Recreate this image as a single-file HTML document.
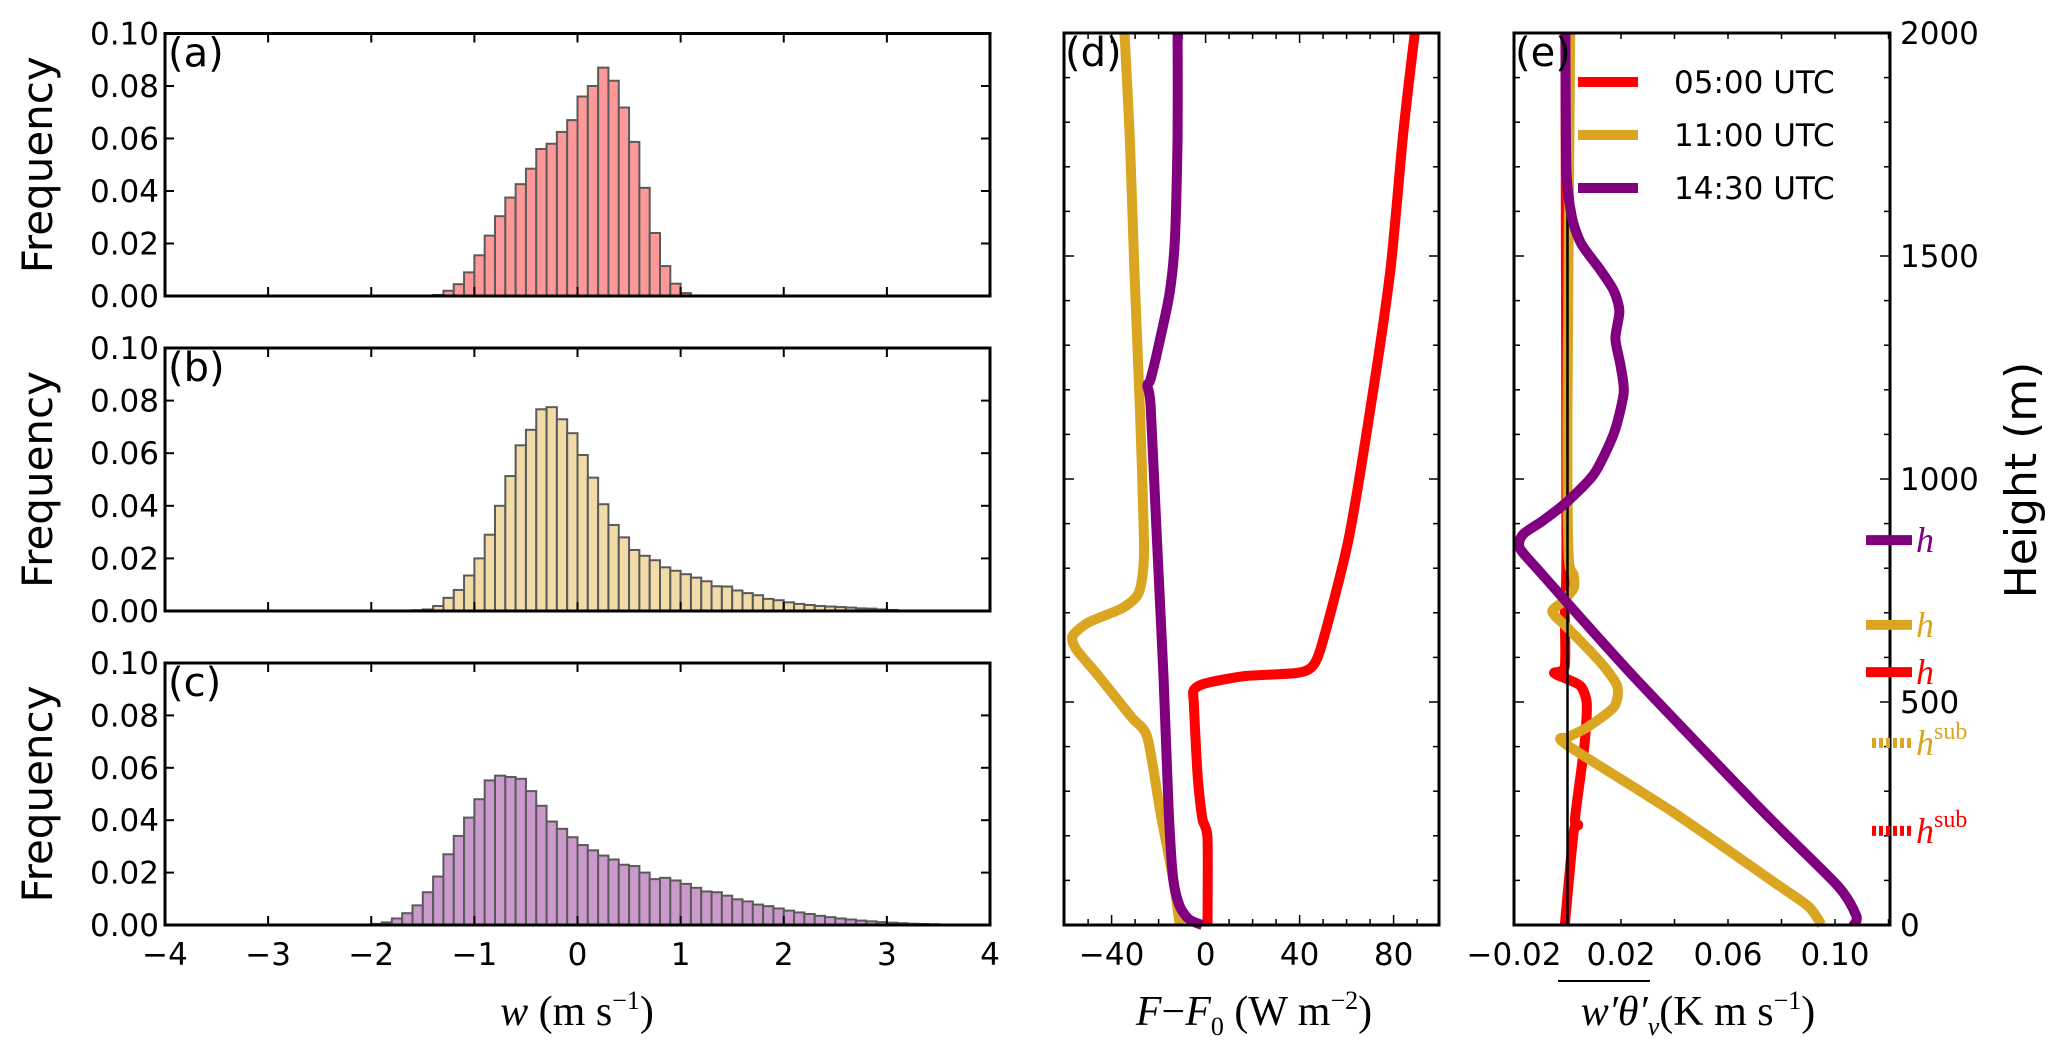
<!DOCTYPE html>
<html><head><meta charset="utf-8"><style>
html,body{margin:0;padding:0;background:#fff;}
svg{display:block;}
text{font-family:"DejaVu Sans","Liberation Sans",sans-serif;}
.serif{font-family:"Liberation Serif","DejaVu Serif",serif;}
</style></head><body>
<svg id="fig" width="2067" height="1058" viewBox="0 0 2067 1058" xmlns="http://www.w3.org/2000/svg"></svg>
<script>
// ---------- data ----------
const binWidth = 0.1;
const histAStart = -1.4;
const histAValues = [0.0004,0.002,0.0045,0.009,0.0155,0.023,0.0304,0.0375,0.0426,0.0485,0.056,0.058,0.0625,0.067,0.076,0.080,0.087,0.082,0.0718,0.0587,0.0412,0.024,0.0114,0.0047,0.0011,0.0002];
const histBStart = -1.6;
const histBValues = [0.0003,0.0006,0.0019,0.005,0.008,0.0135,0.020,0.029,0.040,0.0513,0.063,0.0689,0.0767,0.0775,0.0729,0.0676,0.0593,0.0507,0.0406,0.0327,0.028,0.0232,0.021,0.0193,0.0166,0.0153,0.014,0.0127,0.0113,0.0094,0.0093,0.0078,0.0068,0.006,0.0046,0.0041,0.0033,0.0027,0.0023,0.0019,0.0017,0.0015,0.0013,0.001,0.0009,0.0006,0.0004,0.0002];
const histCStart = -2.1;
const histCValues = [0.0002,0.0004,0.001,0.0025,0.0045,0.0075,0.0125,0.0185,0.027,0.034,0.041,0.048,0.0552,0.057,0.0565,0.0558,0.0511,0.0455,0.0395,0.0367,0.0335,0.0305,0.0285,0.0265,0.025,0.023,0.0225,0.020,0.0175,0.018,0.017,0.0157,0.0142,0.0128,0.0125,0.0112,0.0098,0.009,0.0078,0.0072,0.0063,0.0055,0.0048,0.0042,0.0035,0.003,0.0025,0.0021,0.0017,0.0014,0.0011,0.0009,0.0007,0.0005,0.0004,0.0003,0.0002,0.0002,0.0001,0.0001,0.0001];
const histXTicks = [-4,-3,-2,-1,0,1,2,3,4];
const histYTicks = [0,0.02,0.04,0.06,0.08,0.10];
// panel d: flux difference profiles [height m, value W m-2]
const dRedH = [0,194,239,330,497,527,542,558,565,580,633,861,1164,1467,1770,2000];
const dRedV = [0.8,0.8,-1.4,-3.3,-5,-5,0,16.5,38.6,45.5,49.7,60.7,70.3,78.6,84,89];
const dGoldH = [0,103,255,421,467,558,618,648,679,709,739,785,861,1164,1467,1770,2000];
const dGoldV = [-11,-13.8,-19.3,-24.8,-31.7,-45.5,-55,-56.6,-49.7,-35.9,-29,-26.8,-26.2,-28,-30.3,-32.3,-34.5];
const dPurpH = [0,12,42,103,255,558,861,1164,1209,1224,1315,1421,1542,1770,2000];
const dPurpV = [-1.4,-6.9,-11,-13.8,-15.7,-17.9,-20.7,-23.4,-24.8,-23.4,-19.3,-15.2,-13,-11.9,-11.9];
const dXTicks = [-40,0,40,80];
// panel e: buoyancy flux profiles [height m, value K m s-1]
const eRedH = [0,209,224,239,406,497,535,550,565,580,709,861,2000];
const eRedV = [-0.001,0.0023,0.004,0.0028,0.0064,0.0072,0.005,0.0004,-0.005,-0.001,-0.001,-0.0004,-0.0008];
const eGoldH = [0,42,103,255,406,421,444,489,535,588,664,702,724,755,785,830,1164,2000];
const eGoldV = [0.095,0.090,0.0755,0.039,-0.0008,0.0004,0.0076,0.0174,0.0186,0.0125,0.0004,-0.0057,-0.002,0.0023,0.0023,0.0004,0,0.001];
const ePurpH = [0,20,88,255,558,785,845,876,906,952,1012,1103,1194,1255,1315,1376,1421,1467,1527,1588,1694,2000];
const ePurpV = [0.107,0.108,0.101,0.073,0.0246,-0.0093,-0.0178,-0.0166,-0.0093,0.0004,0.01,0.0174,0.021,0.0198,0.0179,0.0194,0.0174,0.0125,0.0052,0.0016,-0.0004,-0.0008];
const eXTicks = [-0.02,0.02,0.06,0.10];
const eXTickLabels = ["\u22120.02","0.02","0.06","0.10"];
const heightTicks = [0,500,1000,1500,2000];
const markerHeights = [863,673,567,408,211];
const legendLabels = ["05:00 UTC","11:00 UTC","14:30 UTC"];

// ---------- helpers ----------
const NS = "http://www.w3.org/2000/svg";
const svg = document.getElementById("fig");
function mk(tag, attrs, parent){ const e=document.createElementNS(NS,tag); for(const k in attrs) e.setAttribute(k,attrs[k]); (parent||svg).appendChild(e); return e; }
function txt(s, attrs, parent){ const e=mk("text",attrs,parent); e.textContent=s; return e; }

const HX0=165, HX1=990;
const hx = v => HX0 + (v+4)/8*(HX1-HX0);
const panelsY = [[33.5,296],[348,611],[663,925]];
const hists = [
  {start:histAStart, vals:histAValues, fill:"#ff9999", lab:"(a)", name:"a"},
  {start:histBStart, vals:histBValues, fill:"#f1dba6", lab:"(b)", name:"b"},
  {start:histCStart, vals:histCValues, fill:"#cc99cc", lab:"(c)", name:"c"}
];
hists.forEach((h,i)=>{
  const [top,bot]=panelsY[i];
  const hy = v => bot - v/0.1*(bot-top);
  const g = mk("g",{});
  
  
  h.vals.forEach((v,k)=>{
    const x0=hx(h.start+k*binWidth), x1=hx(h.start+(k+1)*binWidth);
    const r=mk("rect",{x:x0,y:hy(v),width:x1-x0,height:bot-hy(v),fill:h.fill,stroke:"#5a5a5a","stroke-width":2},g);
    
    
  });
  histXTicks.forEach(t=>{
    mk("line",{x1:hx(t),x2:hx(t),y1:bot,y2:bot-9,stroke:"#000","stroke-width":2},g);
    mk("line",{x1:hx(t),x2:hx(t),y1:top,y2:top+9,stroke:"#000","stroke-width":2},g);
  });
  histYTicks.forEach(t=>{
    mk("line",{x1:HX0,x2:HX0+9,y1:hy(t),y2:hy(t),stroke:"#000","stroke-width":2},g);
    mk("line",{x1:HX1,x2:HX1-9,y1:hy(t),y2:hy(t),stroke:"#000","stroke-width":2},g);
    const tl=txt(t.toFixed(2),{x:HX0-6,y:hy(t)+11,"text-anchor":"end","font-size":31},g);
    
    
  });
  mk("rect",{x:HX0,y:top,width:HX1-HX0,height:bot-top,fill:"none",stroke:"#000","stroke-width":3},g);
  const pl=txt(h.lab,{x:HX0+3,y:top+33,"font-size":40},g);
  
  
  const yl=txt("Frequency",{x:0,y:0,"font-size":42,"text-anchor":"middle",transform:`translate(52,${(top+bot)/2}) rotate(-90)`},g);
  
  
  if(i===2){
    histXTicks.forEach(t=>{
      const l=txt(t<0?"\u2212"+(-t):String(t),{x:hx(t),y:965,"text-anchor":"middle","font-size":31},g);
      
      
    });
  }
});
const wt = txt("",{x:577,y:1025,"text-anchor":"middle","font-size":42,class:"serif"});
wt.innerHTML='<tspan font-style="italic">w</tspan> (m s<tspan dy="-16" font-size="26">\u22121</tspan><tspan dy="16">)</tspan>';



// ---------- profile panels ----------
const PY0=33, PY1=925;
const py = h => PY1 - h/2000*(PY1-PY0);
const DX0=1064, DX1=1439;
const dx = v => 1205.6 + v/40*94;
const EX0=1514, EX1=1890;
const ex = v => 1514 + (v+0.02)/0.04*(107);

function profile(H,V,xf,color,name,parent){
  const P=H.map((h,k)=>[xf(V[k]),py(h)]);
  let d="M"+P[0][0].toFixed(1)+","+P[0][1].toFixed(1);
  for(let k=0;k<P.length-1;k++){
    const p0=P[Math.max(0,k-1)], p1=P[k], p2=P[k+1], p3=P[Math.min(P.length-1,k+2)];
    const t=0.12;
    const c1=[p1[0]+(p2[0]-p0[0])*t, p1[1]+(p2[1]-p0[1])*t];
    const c2=[p2[0]-(p3[0]-p1[0])*t, p2[1]-(p3[1]-p1[1])*t];
    d+=` C${c1[0].toFixed(1)},${c1[1].toFixed(1)} ${c2[0].toFixed(1)},${c2[1].toFixed(1)} ${p2[0].toFixed(1)},${p2[1].toFixed(1)}`;
  }
  const p=mk("path",{d:d,fill:"none",stroke:color,"stroke-width":10,"stroke-linejoin":"round","stroke-linecap":"butt"},parent);
  
  
}
function frame(x0,x1,xf,minor,major,name){
  const g=mk("g",{});
  
  
  for(let h=0;h<=2000;h+=100){
    const L=h%500===0?10:6;
    mk("line",{x1:x0,x2:x0+L,y1:py(h),y2:py(h),stroke:"#000","stroke-width":1.5},g);
    mk("line",{x1:x1,x2:x1-L,y1:py(h),y2:py(h),stroke:"#000","stroke-width":1.5},g);
  }
  minor.forEach(v=>{
    const L=major.includes(v)?10:6;
    mk("line",{x1:xf(v),x2:xf(v),y1:PY1,y2:PY1-L,stroke:"#000","stroke-width":1.5},g);
    mk("line",{x1:xf(v),x2:xf(v),y1:PY0,y2:PY0+L,stroke:"#000","stroke-width":1.5},g);
  });
  return g;
}
const gd=frame(DX0,DX1,dx,[-50,-40,-30,-20,-10,0,10,20,30,40,50,60,70,80,90],[-40,0,40,80],"panel-d");
profile(dGoldH,dGoldV,dx,"#daa520","line-d-1100",gd);
profile(dRedH,dRedV,dx,"#ff0000","line-d-0500",gd);
profile(dPurpH,dPurpV,dx,"#800080","line-d-1430",gd);
mk("rect",{x:DX0,y:PY0,width:DX1-DX0,height:PY1-PY0,fill:"none",stroke:"#000","stroke-width":3},gd);
const pld=txt("(d)",{x:DX0+1,y:PY0+33,"font-size":40},gd);


dXTicks.forEach(t=>{
  const l=txt(t<0?"\u2212"+(-t):String(t),{x:dx(t),y:965,"text-anchor":"middle","font-size":31},gd);
  
  
});
const dt=txt("",{x:1254,y:1025,"text-anchor":"middle","font-size":42,class:"serif"});
dt.innerHTML='<tspan font-style="italic">F</tspan>\u2212<tspan font-style="italic">F</tspan><tspan dy="10" font-size="26">0</tspan><tspan dy="-10"> (W m</tspan><tspan dy="-16" font-size="26">\u22122</tspan><tspan dy="16">)</tspan>';



const ge=frame(EX0,EX1,ex,[-0.02,0,0.02,0.04,0.06,0.08,0.10,0.12],[],"panel-e");
profile(eRedH,eRedV,ex,"#ff0000","line-e-0500",ge);
profile(eGoldH,eGoldV,ex,"#daa520","line-e-1100",ge);
mk("line",{x1:ex(0),x2:ex(0),y1:PY0,y2:PY1,stroke:"#000","stroke-width":2.5},ge);
profile(ePurpH,ePurpV,ex,"#800080","line-e-1430",ge);
mk("rect",{x:EX0,y:PY0,width:EX1-EX0,height:PY1-PY0,fill:"none",stroke:"#000","stroke-width":3},ge);
const ple=txt("(e)",{x:EX0+1,y:PY0+33,"font-size":40},ge);


eXTicks.forEach((t,k)=>{
  const l=txt(eXTickLabels[k],{x:ex(t),y:965,"text-anchor":"middle","font-size":31},ge);
  
  
});
heightTicks.forEach(h=>{
  const l=txt(String(h),{x:1900,y:py(h)+11,"font-size":31},ge);
  
  
});
const ht=txt("Height (m)",{x:0,y:0,"text-anchor":"middle","font-size":44,transform:"translate(2036,480) rotate(-90)"});


const et=txt("",{x:1698,y:1025,"text-anchor":"middle","font-size":42,class:"serif"});
et.innerHTML='<tspan font-style="italic">w\u2032\u03b8\u2032</tspan><tspan dy="10" font-size="26" font-style="italic">v</tspan><tspan dy="-10">(K m s</tspan><tspan dy="-16" font-size="26">\u22121</tspan><tspan dy="16">)</tspan>';


mk("line",{x1:1558,x2:1650,y1:981,y2:981,stroke:"#000","stroke-width":2});

// legend
const legColors=["#ff0000","#daa520","#800080"];
const lg=mk("g",{});


legendLabels.forEach((s,k)=>{
  const y=82+k*53;
  mk("line",{x1:1578,x2:1638,y1:y,y2:y,stroke:legColors[k],"stroke-width":10},lg);
  const t=txt(s,{x:1674,y:y+11,"font-size":31},lg);
  
  
});

// boundary-layer height markers
const mColors=["#800080","#daa520","#ff0000","#daa520","#ff0000"];
const mSub=[false,false,false,true,true];
markerHeights.forEach((h,k)=>{
  const y=py(h);
  const m=mk("g",{});
  
  
  mk("line",{x1:mSub[k]?1872:1866,x2:1912,y1:y,y2:y,stroke:mColors[k],"stroke-width":10,"stroke-dasharray":mSub[k]?"4,3":"none"},m);
  const t=txt("",{x:1916,y:y+12,"font-size":36,fill:mColors[k],class:"serif"},m);
  t.innerHTML=mSub[k]?'<tspan font-style="italic">h</tspan><tspan dy="-16" font-size="24">sub</tspan>':'<tspan font-style="italic">h</tspan>';
});
</script>
</body></html>
